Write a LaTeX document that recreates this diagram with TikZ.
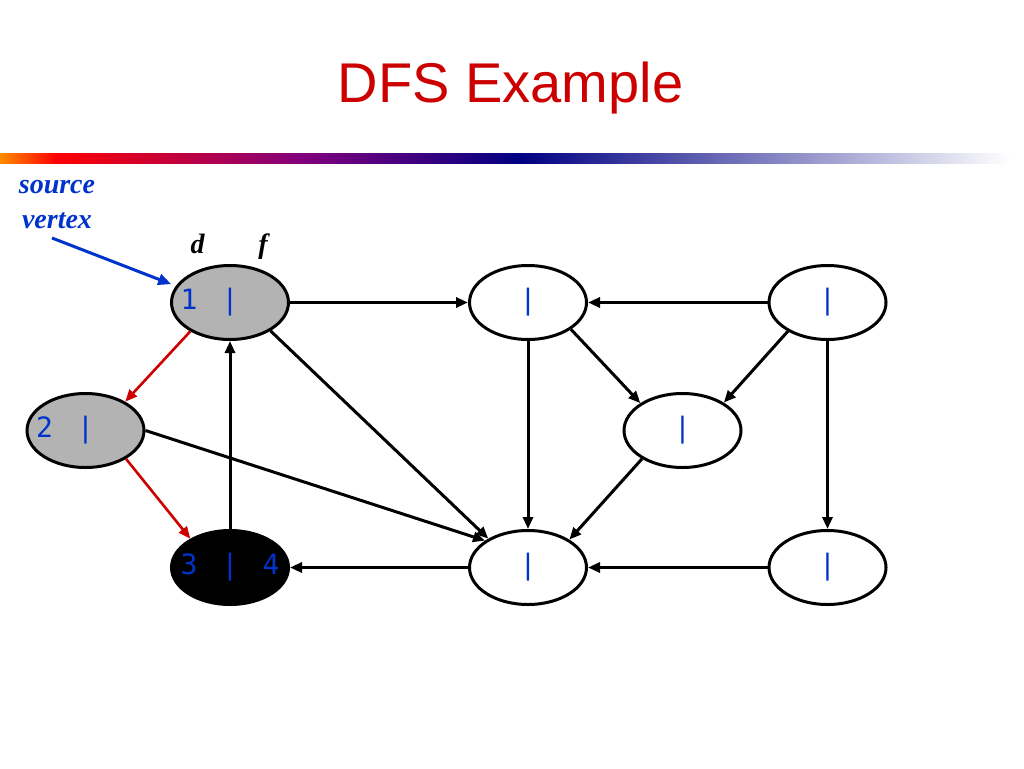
\documentclass[tikz,border=0pt]{standalone}
\usepackage{fontspec}
\setmainfont{Liberation Serif}
\newfontfamily\titlefont{Liberation Sans}
\newfontfamily\vmono{DejaVu Sans Mono}
\usetikzlibrary{shapes.geometric,arrows.meta}
\definecolor{titlered}{RGB}{204,0,0}
\definecolor{lblue}{RGB}{0,51,204}
\definecolor{vgrey}{RGB}{179,179,179}
\definecolor{barorange}{RGB}{255,140,0}
\definecolor{barred}{RGB}{255,0,0}
\definecolor{barpurple}{RGB}{130,0,125}
\definecolor{barnavy}{RGB}{0,0,130}
\newcommand\dlab[2]{\makebox[0pt][c]{\raisebox{-2pt}{\makebox[20.5pt]{#1}\makebox[20.5pt]{}\makebox[20.5pt]{|}\makebox[20.5pt]{}\makebox[20.5pt]{#2}}}}
\begin{document}
\begin{tikzpicture}[x=1pt,y=-1pt,
  vertex/.style={ellipse, draw=black, line width=3pt, minimum width=117pt, minimum height=74pt,
    inner sep=0pt, font=\vmono\fontsize{28}{28}\selectfont, text=lblue, fill=white},
  greyv/.style={vertex, fill=vgrey},
  donev/.style={vertex, fill=black},
  edge/.style={line width=3pt, draw=black, -{Triangle[length=12pt,width=10pt]}},
  treeedge/.style={edge, line width=2.6pt, draw=titlered},
  lbl/.style={font=\fontsize{28}{35}\selectfont\bfseries\itshape, inner sep=0pt}
]
\useasboundingbox (0,0) rectangle (1024,768);
\fill[white] (0,0) rectangle (1024,768);
% gradient bar
\shade[left color=barorange, right color=barred] (0,153) rectangle (56,163);
\shade[left color=barred, right color=barpurple] (55,153) rectangle (301,163);
\shade[left color=barpurple, right color=barnavy] (300,153) rectangle (521,163);
\shade[left color=barnavy, right color=white] (520,153) rectangle (1010,163);
% title
\node[font=\titlefont\fontsize{56}{56}\selectfont, text=titlered, anchor=base, inner sep=0pt] (title) at (510.5,102) {DFS Example};
% vertices
\node[greyv] (n1) at (230,302.5) {\dlab{1}{}};
\node[greyv] (n2) at (85.5,430.5) {\dlab{2}{}};
\node[donev] (n3) at (230,567.5) {\dlab{3}{4}};
\node[vertex] (n4) at (528,302.5) {\dlab{}{}};
\node[vertex] (n5) at (827.5,302.5) {\dlab{}{}};
\node[vertex] (n6) at (682.5,430.5) {\dlab{}{}};
\node[vertex] (n7) at (528,567.5) {\dlab{}{}};
\node[vertex] (n8) at (827.5,567.5) {\dlab{}{}};
% labels
\node[lbl, text=lblue, align=center, anchor=base] (src) at (57,228) {source\\vertex};
\node[lbl, anchor=base] (dlabel) at (197.5,253) {d};
\node[lbl, anchor=base] (flabel) at (263,253) {f};
\coordinate (srcstart) at (52,238);
\draw[line width=3pt, draw=lblue, -{Triangle[length=13pt,width=11pt]}, shorten >=5pt] (srcstart) -- (n1.163);
% edges
\draw[edge] (n1.east) -- (n4.west);
\draw[edge] (n5.west) -- (n4.east);
\draw[edge] (n4.-32) -- (n6.147);
\draw[edge] (n5.-144) -- (n6.34);
\draw[edge] (n4.south) -- (n7.north);
\draw[edge] (n6.-145) -- (n7.34);
\draw[edge] (n5.south) -- (n8.north);
\draw[edge] (n8.west) -- (n7.east);
\draw[edge] (n7.west) -- (n3.east);
\draw[edge] (n3.north) -- (n1.south);
\draw[edge] (n1.-35) -- (n7.144);
\draw[edge] (n2.0) -- (n7.148);
\draw[treeedge] (n1.-144) -- (n2.36);
\draw[treeedge] (n2.-35) -- (n3.144);
\end{tikzpicture}
\end{document}
